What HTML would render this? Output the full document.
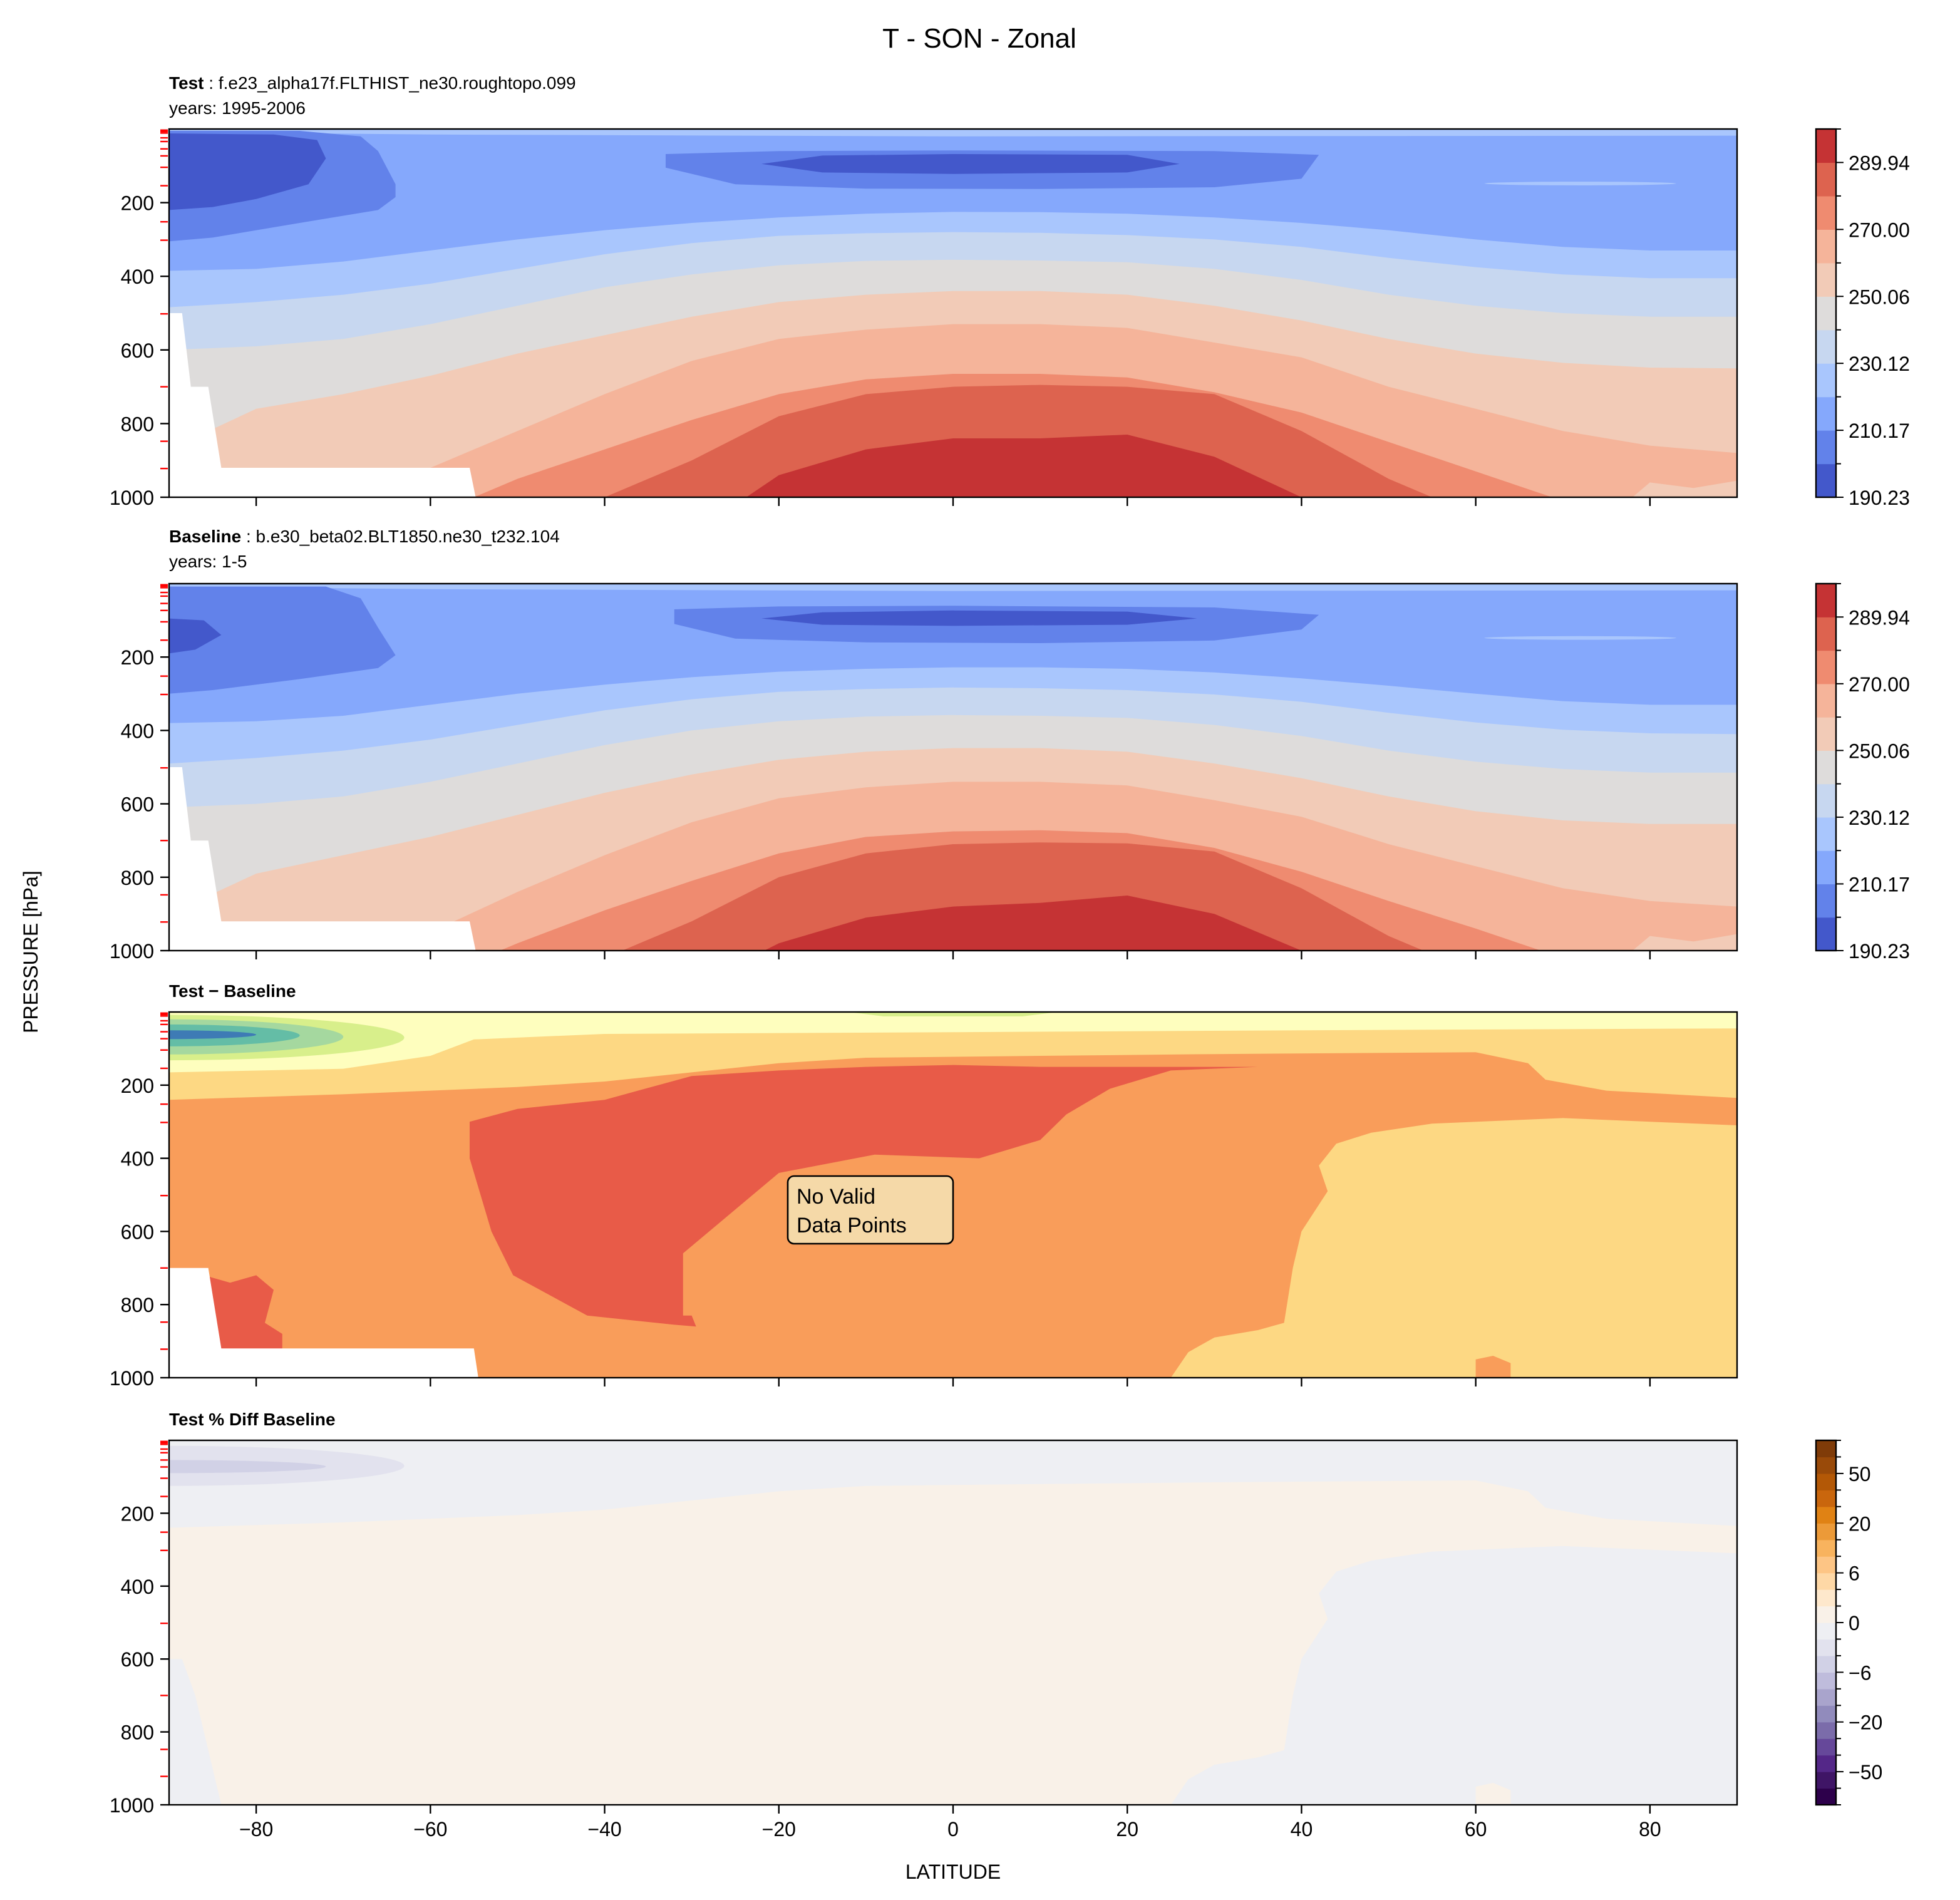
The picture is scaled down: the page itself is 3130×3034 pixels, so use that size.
<!DOCTYPE html>
<html><head><meta charset="utf-8"><style>html,body{margin:0;padding:0;background:#fff}svg{display:block}text{font-family:"Liberation Sans","DejaVu Sans",sans-serif}</style></head>
<body>
<svg id="fig" width="3130" height="3034" viewBox="0 0 1565 1517" xmlns="http://www.w3.org/2000/svg">
<rect width="1565" height="1517" fill="#fff"/>
<text x="782" y="38" font-size="22" text-anchor="middle">T - SON - Zonal</text>
<text x="135" y="71" font-size="14"><tspan font-weight="bold">Test</tspan> : f.e23_alpha17f.FLTHIST_ne30.roughtopo.099</text>
<text x="135" y="91" font-size="14">years: 1995-2006</text>
<text x="135" y="433" font-size="14"><tspan font-weight="bold">Baseline</tspan> : b.e30_beta02.BLT1850.ne30_t232.104</text>
<text x="135" y="453" font-size="14">years: 1-5</text>
<text x="135" y="796" font-size="14" font-weight="bold">Test − Baseline</text>
<text x="135" y="1138" font-size="14" font-weight="bold">Test % Diff Baseline</text>
<text x="0" y="0" font-size="16" text-anchor="middle" transform="translate(30,760) rotate(-90)">PRESSURE [hPa]</text>
<text x="761" y="1500" font-size="16" text-anchor="middle">LATITUDE</text>
</svg>
<script>
const LATS=[-90,-80,-70,-60,-50,-40,-30,-20,-10,0,10,20,30,40,50,60,70,80,90];
const TEMP_COLORS=["#4358cb","#6282ea","#85a8fc","#a9c6fd","#c7d7f0","#dedcdb","#f2cbb7","#f5b49a","#ef8b70","#dd634f","#c53334"];
const TEMP_TICKS=["190.23","210.17","230.12","250.06","270.00","289.94"];
const PCT_COLORS=["#2d004b","#3f1566","#542788","#66489a","#7b6caa","#918bbc","#a9a4cc","#bfbcdc","#d1d1e6","#e2e2ee","#eeeff3","#f9f1e8","#fee8cc","#fed8a6","#fdc585","#f8b35e","#ec9a38","#e08214","#c9660d","#b35806","#994a09","#7f3b08"];
const PCT_TICKS=["−50","−20","−6","0","6","20","50"];
const Y_TICKS=[200,400,600,800,1000];
const X_TICKS=[-80,-60,-40,-20,0,20,40,60,80];
const MODEL_LEVELS=[3,5,7,11,24,34,54,73,104,154,252,302,502,700,848,922];
const T1_B220=[385,380,360,330,300,275,255,240,230,225,226,230,240,255,275,300,320,330,330];
const T1_B230=[484,470,450,420,380,340,310,290,283,280,282,288,300,320,350,375,395,405,405];
const T1_B240=[600,590,570,530,480,430,395,370,358,355,357,362,380,410,450,480,500,510,510];
const T1_B250=[870,760,720,670,610,560,510,470,450,440,440,450,480,520,570,610,635,648,650];
const T1_B260=[1100,1100,1050,920,820,720,630,570,545,530,530,540,580,620,700,760,820,860,880];
const T1_B270=[1100,1100,1100,1050,950,870,790,720,680,665,665,675,715,770,850,930,1010,1100,1100];
const T1_B280=[1100,1100,1100,1100,1100,1000,900,780,720,700,695,700,720,820,950,1050,1100,1100,1100];
const T1_B290=[1100,1100,1100,1100,1100,1100,1100,940,870,840,840,830,890,1000,1100,1100,1100,1100,1100];
const T2_B220=[380,375,360,330,300,275,255,240,232,228,228,232,242,258,278,300,320,330,330];
const T2_B230=[490,475,455,425,385,345,315,295,287,283,285,290,302,322,352,378,398,408,410];
const T2_B240=[610,600,580,540,490,440,400,375,362,358,360,366,385,415,455,485,505,515,515];
const T2_B250=[900,790,740,690,630,570,520,480,458,448,448,458,490,530,580,620,645,655,655];
const T2_B260=[1100,1100,1060,950,840,740,650,585,555,540,540,550,590,635,710,770,830,865,880];
const T2_B270=[1100,1100,1100,1080,980,890,810,735,690,675,672,680,720,785,865,940,1020,1100,1100];
const T2_B280=[1100,1100,1100,1100,1100,1020,920,800,735,710,705,708,730,830,960,1060,1100,1100,1100];
const T2_B290=[1100,1100,1100,1100,1100,1100,1100,980,910,880,870,850,900,1000,1100,1100,1100,1100,1100];
const D_ORANGE=[[-90,240],[-70,225],[-50,205],[-40,190],[-30,165],[-20,140],[-10,125],[10,120],[30,115],[60,110],[66,140],[68,185],[75,215],[90,235],[90,310],[70,290],[55,305],[48,330],[44,360],[42,420],[43,490],[40,600],[39,700],[38,850],[35,870],[30,890],[27,930],[25,1000],[-90,1000]];
const D_RED=[[-55.5,300],[-50,265],[-40,240],[-30,175],[-20,160],[-10,150],[0,145],[10,150],[20,150],[35,150],[25,160],[18,210],[13,280],[10,350],[3,400],[-9,390],[-20,440],[-26,560],[-31,660],[-31,830],[-30,830],[-29.5,860],[-32,855],[-38,840],[-42,830],[-50.5,720],[-53,600],[-55.5,400]];
const D_RED_LEFT=[[-86,720],[-83,740],[-80,720],[-78,760],[-79,850],[-77,880],[-77,950],[-85,950]];
const D_YELLOW=[[-90,0],[90,0],[90,45],[40,50],[0,55],[-40,60],[-55,75],[-60,120],[-70,155],[-90,165]];
const D_BLOB=[[60,1000],[60,950],[62,940],[64,960],[64,1000]];
const MASK1=[[-90,500],[-88.5,500],[-87.5,700],[-85.5,700],[-84,920],[-55.5,920],[-54.8,1000],[-90,1000]];
const MASK3=[[-90,700],[-87.5,700],[-85.5,700],[-84,920],[-55,920],[-54.5,1000],[-90,1000]];
const P4_STRIP=[[-90,600],[-88.5,600],[-87,700],[-84,1000],[-90,1000]];

const NS="http://www.w3.org/2000/svg";
const svg=document.getElementById('fig');
const X0=135,X1=1387;
function xS(lat){return X0+(lat+90)*(X1-X0)/180;}
function mk(tag,attrs,parent){const e=document.createElementNS(NS,tag);for(const k in attrs)e.setAttribute(k,attrs[k]);(parent||svg).appendChild(e);return e;}
function panel(top,h,name){
  const g=mk('g',{});
  
  
  const cp=mk('clipPath',{id:'clip-'+name},g);
  mk('rect',{x:X0,y:top,width:X1-X0,height:h},cp);
  const inner=mk('g',{'clip-path':'url(#clip-'+name+')'},g);
  return {g,inner,top,h,yS:p=>top+p*h/1000};
}
function band(P,arr,color,name){
  let d='M'+xS(-90)+','+P.yS(1100);
  LATS.forEach((l,i)=>{d+=' L'+xS(l).toFixed(1)+','+P.yS(arr[i]).toFixed(1);});
  d+=' L'+xS(90)+','+P.yS(1100)+'Z';
  const e=mk('path',{d,fill:color},P.inner);
  
  
}
function poly(P,pts,color,name){
  const e=mk('polygon',{points:pts.map(q=>xS(q[0]).toFixed(1)+','+P.yS(q[1]).toFixed(1)).join(' '),fill:color},P.inner);
  
  
}
function blob(P,lat,p,rl,rp,color,name){
  const e=mk('ellipse',{cx:xS(lat),cy:P.yS(p),rx:rl*(X1-X0)/180,ry:rp*P.h/1000,fill:color},P.inner);
  
  
}
function axes(P,showX){
  const f=mk('rect',{x:X0,y:P.top,width:X1-X0,height:P.h,fill:'none',stroke:'#000','stroke-width':1.2},P.g);
  
  
  Y_TICKS.forEach(v=>{
    const y=P.yS(v);
    mk('line',{x1:X0-7,x2:X0,y1:y,y2:y,stroke:'#000','stroke-width':1.2},P.g);
    const t=mk('text',{x:X0-12,y:y+6,'font-size':16,'text-anchor':'end'},P.g);
    t.textContent=v;
    
    
  });
  MODEL_LEVELS.forEach(v=>{const y=P.yS(v);mk('line',{x1:X0-7,x2:X0-1,y1:y,y2:y,stroke:'#f00','stroke-width':1.2},P.g);});
  X_TICKS.forEach(v=>{
    const x=xS(v);
    mk('line',{x1:x,x2:x,y1:P.top+P.h,y2:P.top+P.h+7,stroke:'#000','stroke-width':1.2},P.g);
    if(showX){const t=mk('text',{x:x,y:P.top+P.h+25,'font-size':16,'text-anchor':'middle'},P.g);
      t.textContent=(v<0?'−'+(-v):v);
      
      }
  });
}
function colorbar(top,bot,colors,labels,every,offset,name){
  const g=mk('g',{});
  
  
  const x=1450,w=16,n=colors.length,bh=(bot-top)/n;
  colors.forEach((c,i)=>{mk('rect',{x,y:bot-(i+1)*bh,width:w,height:bh+0.3,fill:c},g);});
  mk('rect',{x,y:top,width:w,height:bot-top,fill:'none',stroke:'#000','stroke-width':1.2},g);
  for(let i=0;i<=n;i++){const y=bot-i*bh;const major=(i-offset)%every===0&&i>=offset;
    mk('line',{x1:x+w,x2:x+w+(major?6:4),y1:y,y2:y,stroke:'#000','stroke-width':1},g);}
  labels.forEach((s,j)=>{const y=bot-(offset+j*every)*bh;
    const t=mk('text',{x:x+w+10,y:y+6,'font-size':16},g);t.textContent=s;
    
    });
}
function tempPanel(P,B,pre){
  mk('rect',{x:X0,y:P.top,width:X1-X0,height:P.h,fill:TEMP_COLORS[2]},P.inner);
  poly(P,[[-90,0],[90,0],[90,18],[0,20],[-60,15],[-90,8]],TEMP_COLORS[3],'top-strip');
  const names=['band-220','band-230','band-240','band-250','band-260','band-270','band-280','band-290'];
  B.forEach((b,i)=>band(P,b,TEMP_COLORS[3+i],names[i]));
  poly(P,[[80,960],[85,975],[90,955],[90,1000],[78,1000]],TEMP_COLORS[6],'band-250-corner');
  poly(P,pre.leftMid,TEMP_COLORS[1],'south-pole-cold');
  poly(P,pre.leftCore,TEMP_COLORS[0],'south-pole-core');
  poly(P,pre.eqMid,TEMP_COLORS[1],'tropopause-cold');
  poly(P,pre.eqCore,TEMP_COLORS[0],'tropopause-core');
  blob(P,72,148,11,5,TEMP_COLORS[3],'arctic-sliver');
  poly(P,MASK1,'#fff','missing-data');
}
const P1=panel(103,294,'test-panel');
tempPanel(P1,[T1_B220,T1_B230,T1_B240,T1_B250,T1_B260,T1_B270,T1_B280,T1_B290],{
  leftMid:[[-90,5],[-75,5],[-68,20],[-66,60],[-64,150],[-64,185],[-66,220],[-75,255],[-85,295],[-90,305]],
  leftCore:[[-90,12],[-78,15],[-73,30],[-72,80],[-74,150],[-80,190],[-85,212],[-90,220]],
  eqMid:[[-33,68],[-33,105],[-25,150],[-10,162],[10,163],[30,158],[40,135],[42,70],[30,60],[0,58],[-20,60]],
  eqCore:[[-22,95],[-15,72],[0,68],[20,70],[26,95],[20,118],[0,122],[-15,118]]});
axes(P1,false);
const P2=panel(466,293,'baseline-panel');
tempPanel(P2,[T2_B220,T2_B230,T2_B240,T2_B250,T2_B260,T2_B270,T2_B280,T2_B290],{
  leftMid:[[-90,8],[-72,8],[-68,40],[-66,120],[-64,195],[-66,230],[-75,260],[-85,290],[-90,300]],
  leftCore:[[-90,95],[-86,100],[-84,140],[-87,180],[-90,190]],
  eqMid:[[-32,70],[-32,110],[-25,150],[-10,160],[10,162],[30,155],[40,125],[42,85],[30,65],[0,60],[-20,62]],
  eqCore:[[-22,95],[-15,78],[0,73],[20,76],[28,95],[20,112],[0,115],[-15,112]]});
axes(P2,false);
const P3=panel(808,292,'diff-panel');
mk('rect',{x:X0,y:P3.top,width:X1-X0,height:P3.h,fill:'#fdd883'},P3.inner);
poly(P3,D_ORANGE,'#f99d5a','diff-orange');
poly(P3,D_BLOB,'#f99d5a','diff-blob');
poly(P3,D_RED,'#e85b48','diff-red');
poly(P3,D_RED_LEFT,'#e85b48','diff-red-left');
poly(P3,D_YELLOW,'#fefebe','diff-yellow');
poly(P3,[[-12,0],[12,0],[8,12],[-8,12]],'#d8ef8b','diff-green-strip');
blob(P3,-90,70,27,62,'#d8ef8b','diff-green-1');
blob(P3,-90,68,20,48,'#a5d89f','diff-green-2');
blob(P3,-90,64,15,30,'#64bda6','diff-teal');
blob(P3,-90,62,10,12,'#3e7bb5','diff-blue');
poly(P3,MASK3,'#fff','missing-data');
axes(P3,false);
const nb=mk('g',{});


mk('rect',{x:629,y:939,width:132,height:54,rx:5,fill:'#f5d9a8',stroke:'#000','stroke-width':1.3},nb);
const t1=mk('text',{x:636,y:961,'font-size':17},nb);t1.textContent='No Valid';
const t2=mk('text',{x:636,y:984,'font-size':17},nb);t2.textContent='Data Points';
const P4=panel(1150,291,'pctdiff-panel');
mk('rect',{x:X0,y:P4.top,width:X1-X0,height:P4.h,fill:'#eeeff3'},P4.inner);
poly(P4,D_ORANGE,'#f9f1e8','pct-positive');
poly(P4,D_BLOB,'#f9f1e8','pct-blob');
poly(P4,D_YELLOW,'#eeeff3','pct-top');
poly(P4,P4_STRIP,'#eeeff3','pct-left-strip');
blob(P4,-90,70,27,55,'#e2e2ee','pct-purple-1');
blob(P4,-90,72,18,18,'#d1d1e6','pct-purple-2');
axes(P4,true);
colorbar(103,397,TEMP_COLORS,TEMP_TICKS,2,0,'test-colorbar');
colorbar(466,759,TEMP_COLORS,TEMP_TICKS,2,0,'baseline-colorbar');
colorbar(1150,1441,PCT_COLORS,PCT_TICKS,3,2,'pct-colorbar');
</script>
</body></html>
